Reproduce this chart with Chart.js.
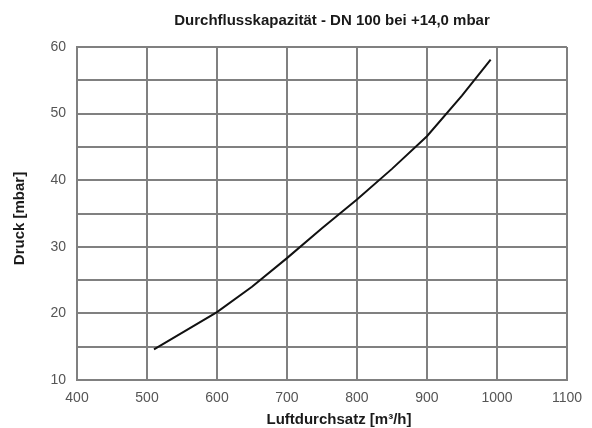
<!DOCTYPE html>
<html>
<head>
<meta charset="utf-8">
<script src="https://cdn.jsdelivr.net/npm/chart.js@4"></script>
<style>
  html, body { margin: 0; padding: 0; background: #fff; }
  #chart { display: block; }
</style>
</head>
<body>
<canvas id="chart" width="592" height="428"></canvas>
<script>
const flow = [510, 600, 650, 700, 750, 800, 850, 900, 950, 991];
const pressure = [14.6, 20.2, 24.0, 28.3, 32.8, 37.1, 41.7, 46.6, 52.7, 58.1];

const xTicks = [400, 500, 600, 700, 800, 900, 1000, 1100];
const yTicks = [10, 20, 30, 40, 50, 60];

const chartTitle = 'Durchflusskapazität - DN 100 bei +14,0 mbar';
const xTitle = 'Luftdurchsatz [m³/h]';
const yTitle = 'Druck [mbar]';

const gridColor = '#808080';
const tickColor = '#555555';
const textColor = '#1a1a1a';
const fontFamily = "'Liberation Sans', Arial, Helvetica, sans-serif";
const titleFont = 'bold 15px ' + fontFamily;

// Titel selbst zeichnen, damit sie wie im Original leicht versetzt sitzen
const titlesPlugin = {
    id: 'titles',
    afterDraw(chart) {
        const c = chart.ctx;
        const area = chart.chartArea;
        const midX = (area.left + area.right) / 2;
        const midY = (area.top + area.bottom) / 2;
        c.save();
        c.fillStyle = textColor;
        c.font = titleFont;
        c.textAlign = 'center';
        c.textBaseline = 'alphabetic';
        c.fillText(chartTitle, midX + 10, 25);
        c.fillText(xTitle, midX + 17, area.bottom + 44);
        c.translate(24, midY + 5);
        c.rotate(-Math.PI / 2);
        c.fillText(yTitle, 0, 0);
        c.restore();
    }
};

const ctx = document.getElementById('chart').getContext('2d');
new Chart(ctx, {
    type: 'line',
    data: {
        datasets: [{
            data: flow.map((x, i) => ({ x: x, y: pressure[i] })),
            borderColor: '#111111',
            borderWidth: 2,
            pointRadius: 0,
            tension: 0,
            fill: false
        }]
    },
    options: {
        responsive: false,
        animation: false,
        layout: { padding: { left: 0, right: 24, top: 47, bottom: 0 } },
        plugins: {
            legend: { display: false },
            tooltip: { enabled: false },
            title: { display: false }
        },
        scales: {
            x: {
                type: 'linear',
                min: xTicks[0],
                max: xTicks[xTicks.length - 1],
                afterBuildTicks: axis => { axis.ticks = xTicks.map(v => ({ value: v })); },
                ticks: {
                    color: tickColor,
                    font: { family: fontFamily, size: 14 },
                    padding: 10,
                    maxRotation: 0,
                    callback: v => String(v)
                },
                grid: { color: gridColor, lineWidth: 2, drawTicks: false },
                border: { color: gridColor, width: 2 },
                afterFit: axis => { axis.height = 48; }
            },
            y: {
                type: 'linear',
                min: 10,
                max: 60,
                ticks: {
                    stepSize: 5,
                    color: tickColor,
                    font: { family: fontFamily, size: 14 },
                    padding: 11,
                    callback: v => yTicks.includes(v) ? String(v) : ''
                },
                grid: { color: gridColor, lineWidth: 2, drawTicks: false },
                border: { color: gridColor, width: 2 },
                afterFit: axis => { axis.width = 77; }
            }
        }
    },
    plugins: [titlesPlugin]
});
</script>
</body>
</html>
